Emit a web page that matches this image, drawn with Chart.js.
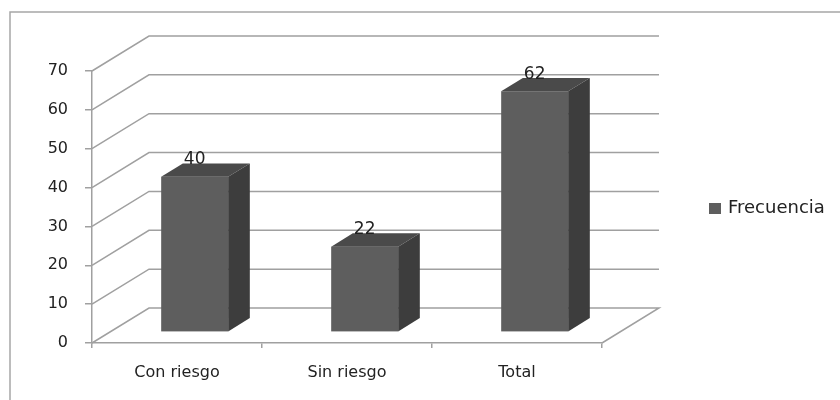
<!DOCTYPE html>
<html lang="es">
<head>
<meta charset="utf-8">
<title>Frecuencia</title>
<script src="https://cdn.jsdelivr.net/npm/chart.js@4.4.0/dist/chart.umd.min.js"></script>
<style>
  html, body { margin: 0; padding: 0; background: #fff; }
  canvas { display: block; }
</style>
</head>
<body>
<canvas id="grafico" width="840" height="400"></canvas>
<script>
const categorias = ['Con riesgo', 'Sin riesgo', 'Total'];
const frecuencia = [40, 22, 62];
const serieNombre = 'Frecuencia';
const ejeMax = 70;
const ejePaso = 10;

const colorFrente = '#5e5e5e';
const colorTecho = '#4a4a4a';
const colorLado = '#3d3d3d';
const colorLinea = '#a0a0a0';
const colorTexto = '#222';
const fuente = '"DejaVu Sans", sans-serif';

// profundidad del piso y de las paredes
const PROF_X = 57;
const PROF_Y = -35;
// las barras ocupan la franja central de la profundidad
const BARRA_INI = 0.31;
const BARRA_FONDO = 0.38;

// borde exterior del grafico (solo izquierda y arriba quedan dentro)
const marco = {
  id: 'marco',
  beforeDraw(chart) {
    const ctx = chart.ctx;
    ctx.save();
    ctx.strokeStyle = '#a6a6a6';
    ctx.lineWidth = 1.5;
    ctx.beginPath();
    ctx.moveTo(10, chart.height);
    ctx.lineTo(10, 12);
    ctx.lineTo(chart.width, 12);
    ctx.stroke();
    ctx.restore();
  }
};

// lineas de division en la pared lateral y la pared del fondo
const paredes = {
  id: 'paredes',
  beforeDatasetsDraw(chart) {
    const { ctx, chartArea: a, scales: { y } } = chart;
    ctx.save();
    ctx.strokeStyle = colorLinea;
    ctx.lineWidth = 1.5;
    y.ticks.forEach(t => {
      const py = y.getPixelForValue(t.value);
      ctx.beginPath();
      ctx.moveTo(a.left, py);
      ctx.lineTo(a.left + PROF_X, py + PROF_Y);
      ctx.lineTo(a.right + PROF_X, py + PROF_Y);
      if (t.value === 0) ctx.lineTo(a.right, py);
      ctx.stroke();
    });
    ctx.restore();
  }
};

// barras en 3D: frente, techo y lado, con el valor encima
const barras3d = {
  id: 'barras3d',
  beforeDatasetDraw(chart, args) {
    const ctx = chart.ctx;
    const fx = PROF_X * BARRA_INI, fy = PROF_Y * BARRA_INI;
    const bx = PROF_X * BARRA_FONDO, by = PROF_Y * BARRA_FONDO;
    ctx.save();
    args.meta.data.forEach((el, i) => {
      const { x, y, base, width } = el.getProps(['x', 'y', 'base', 'width'], true);
      const x0 = x - width / 2 + fx, x1 = x0 + width;
      const y0 = y + fy, y1 = base + fy;

      ctx.fillStyle = colorFrente;
      ctx.fillRect(x0, y0, width, y1 - y0);

      ctx.fillStyle = colorTecho;
      ctx.beginPath();
      ctx.moveTo(x0, y0);
      ctx.lineTo(x0 + bx, y0 + by);
      ctx.lineTo(x1 + bx, y0 + by);
      ctx.lineTo(x1, y0);
      ctx.closePath();
      ctx.fill();

      ctx.fillStyle = colorLado;
      ctx.beginPath();
      ctx.moveTo(x1, y0);
      ctx.lineTo(x1 + bx, y0 + by);
      ctx.lineTo(x1 + bx, y1 + by);
      ctx.lineTo(x1, y1);
      ctx.closePath();
      ctx.fill();

      ctx.fillStyle = colorTexto;
      ctx.font = '17px ' + fuente;
      ctx.textAlign = 'center';
      ctx.textBaseline = 'alphabetic';
      ctx.fillText(String(chart.data.datasets[args.index].data[i]), (x0 + x1) / 2, y0 + by + 1);
    });
    ctx.restore();
    return false;
  }
};

// leyenda a la derecha del grafico
const leyenda = {
  id: 'leyenda',
  afterDraw(chart) {
    const { ctx, chartArea: a } = chart;
    const ds = chart.data.datasets[0];
    const cy = (a.top + a.bottom) / 2 + 1.5;
    const lx = a.right + 107;
    ctx.save();
    ctx.fillStyle = ds.backgroundColor;
    ctx.fillRect(lx, cy - 5.5, 12, 11);
    ctx.fillStyle = colorTexto;
    ctx.font = '18px ' + fuente;
    ctx.textAlign = 'left';
    ctx.textBaseline = 'middle';
    ctx.fillText(ds.label, lx + 19, cy);
    ctx.restore();
  }
};

new Chart(document.getElementById('grafico'), {
  type: 'bar',
  data: {
    labels: categorias,
    datasets: [{
      label: serieNombre,
      data: frecuencia,
      backgroundColor: colorFrente,
      barPercentage: 1,
      categoryPercentage: 0.394
    }]
  },
  options: {
    responsive: false,
    animation: false,
    layout: { padding: { left: 10, top: 71, right: 238, bottom: 0 } },
    plugins: {
      legend: { display: false },
      tooltip: { enabled: false }
    },
    scales: {
      x: {
        grid: { drawOnChartArea: false, drawTicks: true, tickLength: 5, color: colorLinea, lineWidth: 1.5 },
        border: { display: true, color: colorLinea, width: 1.5 },
        ticks: { color: colorTexto, font: { family: fuente, size: 16 }, padding: 15 },
        afterFit(s) { s.height = 57; }
      },
      y: {
        min: 0,
        max: ejeMax,
        ticks: { stepSize: ejePaso, color: colorTexto, font: { family: fuente, size: 16 }, padding: 17 },
        grid: { drawOnChartArea: false, drawTicks: true, tickLength: 7, color: colorLinea, lineWidth: 1.5 },
        border: { display: true, color: colorLinea, width: 1.5 },
        afterFit(s) { s.width = 82; }
      }
    }
  },
  plugins: [marco, paredes, barras3d, leyenda]
});
</script>
</body>
</html>
